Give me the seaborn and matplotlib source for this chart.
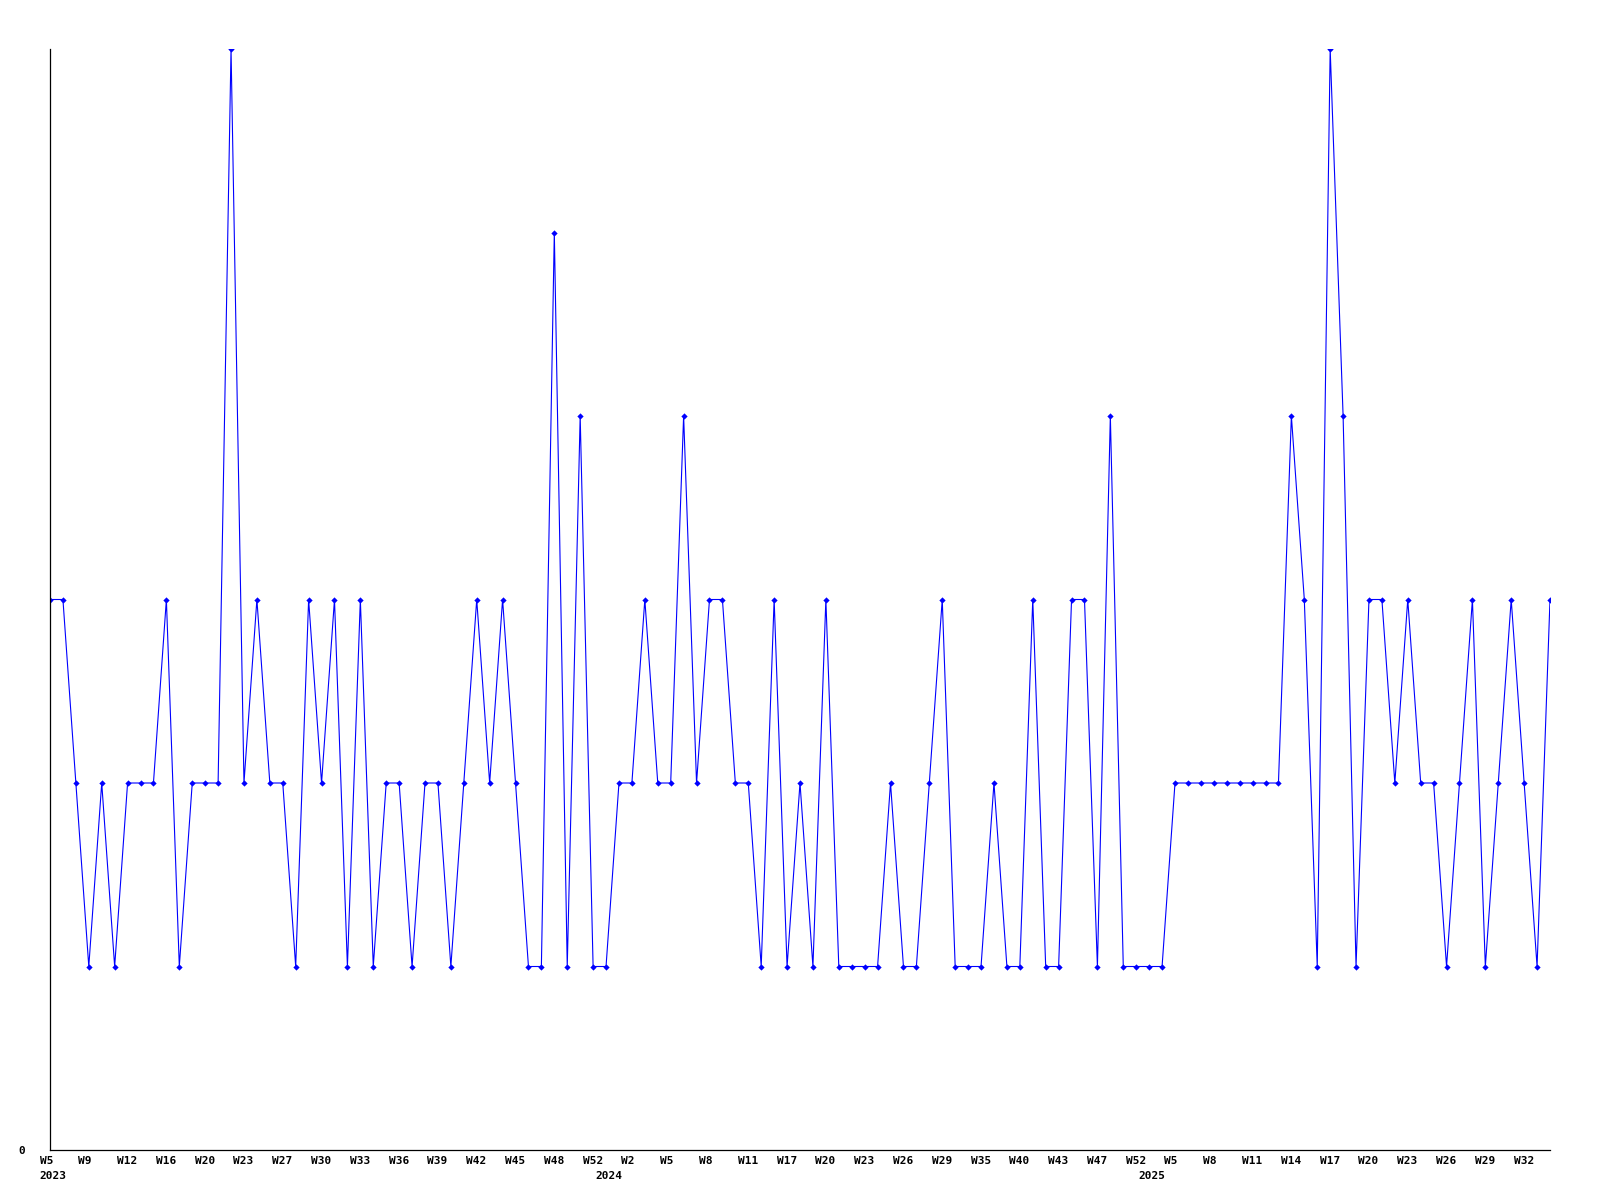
import matplotlib
matplotlib.use("Agg")
from matplotlib import pyplot as plt
import matplotlib.transforms as mtransforms
import numpy as np
import pandas as pd
import seaborn as sns

# weekly counts, one per point
COUNTS = [3, 3, 2, 1, 2, 1, 2, 2, 2, 3,
          1, 2, 2, 2, 6, 2, 3, 2, 2, 1,
          3, 2, 3, 1, 3, 1, 2, 2, 1, 2,
          2, 1, 2, 3, 2, 3, 2, 1, 1, 5,
          1, 4, 1, 1, 2, 2, 3, 2, 2, 4,
          2, 3, 3, 2, 2, 1, 3, 1, 2, 1,
          3, 1, 1, 1, 1, 2, 1, 1, 2, 3,
          1, 1, 1, 2, 1, 1, 3, 1, 1, 3,
          3, 1, 4, 1, 1, 1, 1, 2, 2, 2,
          2, 2, 2, 2, 2, 2, 4, 3, 1, 6,
          4, 1, 3, 3, 2, 3, 2, 2, 1, 2,
          3, 1, 2, 3, 2, 1, 3]

# a label on every third point
WEEK_LABELS = ["W5", "W9", "W12", "W16", "W20", "W23", "W27", "W30", "W33",
               "W36", "W39", "W42", "W45", "W48", "W52",
               "W2", "W5", "W8", "W11", "W17", "W20", "W23", "W26", "W29",
               "W35", "W40", "W43", "W47", "W52",
               "W5", "W8", "W11", "W14", "W17", "W20", "W23", "W26", "W29", "W32"]
LABEL_STEP = 3

YEAR_LABELS = ["2023", "2024", "2025"]
YEAR_START = [0, 43, 85]   # first point of each year

sns.set_style("white")
plt.rcParams["font.family"] = ["DejaVu Sans Mono"]
plt.rcParams["text.color"] = "black"
plt.rcParams["xtick.color"] = "black"
plt.rcParams["ytick.color"] = "black"

fig = plt.figure(figsize=(16, 12), dpi=100)
ax = fig.add_axes([50 / 1600, 1 - 1150 / 1200, 1500 / 1600, 1101 / 1200])

df = pd.DataFrame({"point": np.arange(len(COUNTS)), "count": COUNTS})
sns.lineplot(data=df, x="point", y="count", ax=ax,
             color="#0000ff", linewidth=0.8,
             marker="D", markersize=3.2, markeredgewidth=0,
             markerfacecolor="#0000ff")

ax.set_xlim(0, len(COUNTS) - 1)
ax.set_ylim(0, max(COUNTS))
ax.set_xlabel("")
ax.set_ylabel("")

ax.set_yticks([0])
ax.set_yticklabels(["0"], fontsize=8, fontweight="bold")
ax.tick_params(axis="y", length=0, pad=18)

ax.xaxis.remove_overlapping_locs = False
ax.set_xticks(np.arange(0, len(COUNTS), LABEL_STEP))
ax.set_xticklabels(WEEK_LABELS, fontsize=8, fontweight="bold")
ax.set_xticks(YEAR_START, minor=True)
ax.set_xticklabels(YEAR_LABELS, minor=True, fontsize=8, fontweight="bold")
ax.tick_params(axis="x", which="major", length=0, pad=4)
ax.tick_params(axis="x", which="minor", length=0, pad=15)

# labels start a little left of their point
shift = mtransforms.ScaledTranslation(-10.5 / 100, 0, fig.dpi_scale_trans)
for lab in ax.get_xticklabels() + ax.get_xticklabels(minor=True):
    lab.set_ha("left")
    lab.set_transform(lab.get_transform() + shift)

sns.despine(ax=ax)
for side in ["left", "bottom"]:
    ax.spines[side].set_color("black")
    ax.spines[side].set_linewidth(0.9)

plt.savefig("out.png", dpi=100)
